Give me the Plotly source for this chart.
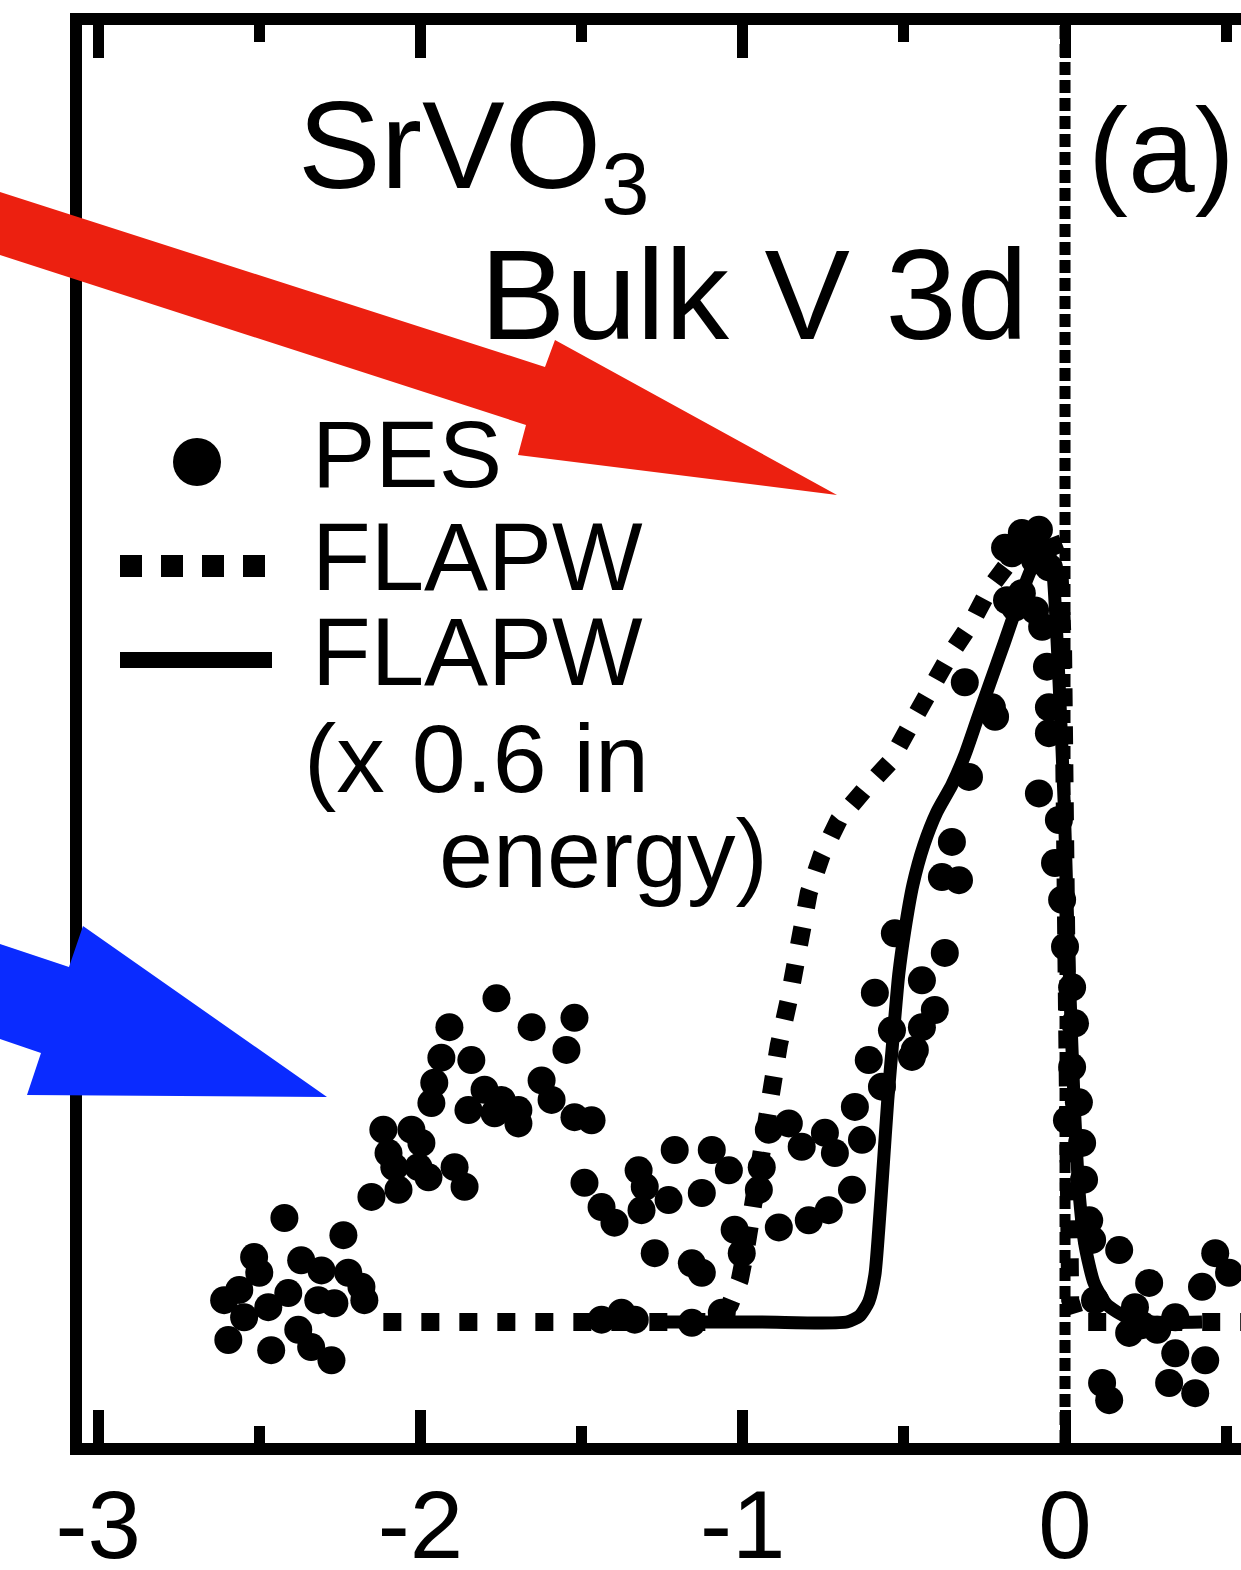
import plotly.graph_objects as go

# ---------------- data ----------------
tick_vals = [-3, -2, -1, 0]
tick_text = ["-3", "-2", "-1", "0"]
minor_vals = [-2.5, -1.5, -0.5, 0.5]

pes_energy = [-2.609, -2.547, -2.596, -2.463, -2.516, -2.500, -2.422, -2.239, -2.370, -2.307, -2.224,
              -2.183, -2.174, -2.267, -2.410, -2.472, -2.379, -2.339, -2.276, -2.317, -2.562,
              -2.115, -2.028, -2.099, -2.081, -1.997, -2.006, -2.152, -2.068, -1.975, -1.894, -1.863,
              -1.910, -1.764, -1.655, -1.522, -1.547,
              -1.935, -1.842, -1.957, -1.966, -1.801, -1.748, -1.851, -1.696, -1.624, -1.593, -1.469,
              -1.522, -1.696, -1.770,
              -1.491, -1.438, -1.398,
              -1.323, -1.304, -1.314, -1.230, -1.211, -1.096, -1.043, -1.127, -0.941, -0.950, -0.919,
              -0.857, -0.817, -0.745, -0.714, -0.630, -0.661, -0.733, -0.795, -0.888, -1.025, -1.003,
              -1.273, -1.158, -1.127, -0.652, -0.609, -1.376, -1.158, -1.065, -1.335, -1.438,
              -0.528, -0.373, -0.590, -0.444, -0.404, -0.466, -0.537, -0.568, -0.444, -0.475, -0.329,
              -0.382, -0.351, -0.298, -0.227, -0.217, -0.311,
              -0.134, -0.081, -0.165, -0.093, -0.050, -0.134, -0.093, -0.071, -0.056, -0.050, -0.050,
              -0.081, -0.031, -0.019, 0.000, 0.022, 0.031, 0.022, 0.043, 0.053, 0.059, 0.075, 0.084,
              0.168, 0.261, 0.199, 0.115, 0.137, 0.342, 0.435, 0.323, 0.404, 0.466, 0.425, 0.509,
              0.217, 0.342, 0.093,
              -0.186, -0.118, -0.009, 0.006, -0.180, -0.155, 0.239, 0.286]
pes_intensity = [2.8, 0.6, -2.3, -3.6, 8.3, 6.3, 13.3, 11.1, 7.9, 6.6, 6.3,
                 4.5, 2.8, 2.4, 3.7, 1.9, -1.0, -3.2, -4.9, 2.8, 4.1,
                 24.6, 24.6, 21.6, 19.8, 22.9, 19.8, 16.0, 16.9, 18.5, 19.8, 17.3,
                 37.7, 41.4, 37.7, 38.9, 34.8,
                 33.8, 33.5, 30.6, 28.0, 29.7, 28.4, 27.1, 25.4, 30.9, 28.4, 25.8,
                 26.2, 27.1, 26.7,
                 17.8, 14.7, 12.7,
                 19.4, 17.3, 14.3, 15.6, 22.0, 22.0, 19.4, 16.5, 19.8, 16.9, 24.6,
                 25.4, 22.4, 24.2, 21.6, 23.3, 16.9, 14.3, 13.0, 12.1, 11.8, 8.8,
                 8.8, 7.5, 6.3, 27.5, 33.5, 1.2, -0.1, 1.2, 0.3, 0.3,
                 49.7, 47.2, 42.1, 43.7, 39.9, 34.8, 37.3, 30.1, 37.7, 33.9, 56.5,
                 56.9, 61.4, 69.7, 78.6, 77.4, 81.8,
                 100.9, 101.3, 98.3, 97.4, 96.5, 93.2, 91.0, 88.9, 83.8, 78.6, 75.3,
                 67.6, 58.7, 64.2, 48.0, 42.8, 38.2, 32.6, 28.1, 22.9, 18.2, 13.0, 10.5,
                 9.2, 5.0, -1.4, -7.8, -10.0, -4.0, -4.9, -7.8, -9.1, 8.8, 4.5, 6.3,
                 1.9, 0.6, 2.8,
                 99.0, 99.0, 54.0, 25.8, 92.3, 91.4, -0.4, -1.0]

flapw_energy = [-2.115, -1.438, -1.081, -1.040, -1.009, -0.988, -0.966, -0.941, -0.916, -0.888,
                -0.857, -0.826, -0.795, -0.755, -0.702, -0.624, -0.543, -0.475, -0.419, -0.357,
                -0.289, -0.233, -0.180, -0.134, -0.087, -0.047, -0.019, -0.006, 0.000, 0.006,
                0.016, 0.037, 0.553]
flapw_intensity = [0.0, 0.0, 0.0, 2.2, 5.4, 9.8, 16.2, 23.3, 29.7, 35.4,
                   41.2, 49.9, 54.9, 59.7, 64.2, 68.0, 71.6, 76.7, 81.2, 85.3,
                   89.5, 93.9, 96.8, 99.0, 100.4, 100.4, 97.4, 85.9, 54.0, 22.0,
                   2.8, 0.0, 0.0]

flapw06_energy = [-1.270, -0.941, -0.677, -0.637, -0.609, -0.590, -0.578, -0.565, -0.550, -0.534,
                  -0.516, -0.497, -0.472, -0.438, -0.398, -0.351, -0.311, -0.273, -0.233, -0.189,
                  -0.146, -0.109, -0.078, -0.059, -0.040, -0.028, -0.016, -0.003, 0.006, 0.016,
                  0.028, 0.043, 0.062, 0.090, 0.130, 0.193, 0.270, 0.425]
flapw06_intensity = [0.0, 0.0, 0.0, 0.8, 2.6, 6.0, 11.8, 19.4, 28.4, 36.1,
                     44.4, 50.1, 55.9, 61.0, 65.2, 68.7, 72.5, 77.0, 81.7, 86.8,
                     91.9, 95.9, 98.7, 99.2, 96.8, 89.8, 79.5, 66.8, 54.0, 41.2,
                     28.4, 16.9, 9.8, 5.0, 2.2, 0.6, 0.0, 0.0]

# ---------------- layout geometry (pixels) ----------------
W, H = 1241, 1570
L, T, R, B = 82, 25, 1241, 1443
FONT = "Liberation Sans, Arial, sans-serif"


def px(x):
    return (x - L) / (R - L)


def py(y):
    return (B - y) / (B - T)


def path(points):
    s = "M " + " L ".join(f"{px(x):.5f},{py(y):.5f}" for x, y in points)
    return s + " Z"


fig = go.Figure()

fig.add_trace(go.Scatter(x=flapw_energy, y=flapw_intensity, mode="lines",
                         line=dict(color="black", width=18, dash="18px,20px"),
                         hoverinfo="skip"))
fig.add_trace(go.Scatter(x=flapw06_energy, y=flapw06_intensity, mode="lines",
                         line=dict(color="black", width=13, shape="spline", smoothing=0.6),
                         hoverinfo="skip"))
fig.add_trace(go.Scatter(x=pes_energy, y=pes_intensity, mode="markers",
                         marker=dict(color="black", size=28, line=dict(width=0)),
                         hoverinfo="skip"))

shapes = []
# vertical dotted line at E = 0
shapes.append(dict(type="line", xref="x", yref="paper", x0=0, x1=0, y0=0, y1=1,
                   line=dict(color="black", width=11, dash="13px,5px"), layer="below"))
# legend symbols
shapes.append(dict(type="circle", xref="paper", yref="paper",
                   x0=px(173), x1=px(221), y0=py(438), y1=py(486),
                   fillcolor="black", line=dict(width=0)))
shapes.append(dict(type="line", xref="paper", yref="paper",
                   x0=px(120), x1=px(265), y0=py(566), y1=py(566),
                   line=dict(color="black", width=22, dash="22px,19px")))
shapes.append(dict(type="line", xref="paper", yref="paper",
                   x0=px(120), x1=px(272), y0=py(660), y1=py(660),
                   line=dict(color="black", width=16)))
# red arrow
shapes.append(dict(type="path", xref="paper", yref="paper",
                   path=path([(0, 192), (545, 367), (555, 340), (837, 495),
                              (518, 455), (526, 425), (0, 255)]),
                   fillcolor="#EC2010", line=dict(width=0), layer="above"))
# blue arrow
shapes.append(dict(type="path", xref="paper", yref="paper",
                   path=path([(0, 944), (69, 967), (83, 926), (327, 1097),
                              (27, 1095), (41, 1053), (0, 1039)]),
                   fillcolor="#0A2BFF", line=dict(width=0), layer="above"))

annotations = []


def text(t, x, y, size, anchor="left"):
    annotations.append(dict(text=t, xref="paper", yref="paper", x=px(x), y=py(y),
                            xanchor=anchor, yanchor="middle", showarrow=False,
                            font=dict(family=FONT, size=size, color="black")))


text("SrVO<sub>3</sub>", 296, 154, 124)
text("Bulk V 3d", 478, 294, 128)
text("(a)", 1086, 150, 120)
text("PES", 310, 454, 95)
text("FLAPW", 310, 556, 96)
text("FLAPW", 310, 651, 96)
text("(x 0.6 in", 302, 758, 97)
text("energy)", 437, 853, 97)

fig.update_layout(
    width=W, height=H,
    margin=dict(l=L, r=W - R, t=T, b=H - B, pad=0, autoexpand=False),
    paper_bgcolor="white", plot_bgcolor="white",
    showlegend=False,
    shapes=shapes,
    annotations=annotations,
    xaxis=dict(range=[-3.050, 0.546], tickmode="array", tickvals=tick_vals, ticktext=tick_text,
               ticks="inside", ticklen=33, tickwidth=11, tickcolor="black",
               showline=True, linewidth=12, linecolor="black", mirror="allticks",
               showgrid=False, zeroline=False, ticklabelstandoff=-12, automargin=False,
               tickfont=dict(family=FONT, size=96, color="black"),
               minor=dict(tickmode="array", tickvals=minor_vals, ticks="inside", ticklen=17,
                          tickwidth=11, tickcolor="black", showgrid=False)),
    yaxis=dict(range=[-15.47, 165.86], showline=True, linewidth=12, linecolor="black",
               mirror=False, showticklabels=False, ticks="", showgrid=False, zeroline=False,
               automargin=False),
)

fig.write_html("out.html")
